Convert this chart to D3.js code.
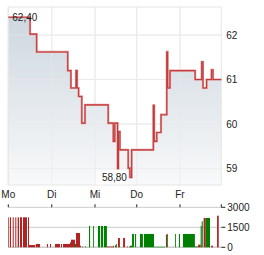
<!DOCTYPE html>
<html lang="de">
<head>
  <meta charset="utf-8">
  <title>Kurs 5 Tage</title>
  <script src="https://cdnjs.cloudflare.com/ajax/libs/d3/7.8.5/d3.min.js"></script>
  <style>
    body { margin: 0; background: #fff; }
    svg { display: block; font-family: "Liberation Sans", Arial, sans-serif; }
    .grid line { stroke: #ebebeb; stroke-width: 1; }
    .lbl { font-size: 10px; fill: #222; }
  </style>
</head>
<body>
<svg width="264" height="255"></svg>
<script>
  // day axis (time units 0..100 across the week)
  var dayT = [0, 20.4, 40.7, 60.3, 80.6];
  var dayNames = ["Mo", "Di", "Mi", "Do", "Fr"];
  var priceTicks = [59, 60, 61, 62];
  var volTicks = [0, 1500, 3000];

  // price path (step after)
  var priceT = [0, 10.2, 13.3, 27.9, 29.4, 31.8, 32.3, 33.0, 34.5, 36.0, 46.9, 49.3, 50.0, 51.3, 51.7, 52.4,
                56.3, 57.1, 57.9, 68.1, 68.5, 69.7, 71.7, 74.4, 74.8, 75.9, 87.7, 90.8, 91.4, 93.1, 95.4, 96.1, 100];
  var priceV = [62.40, 62.02, 61.62, 61.20, 60.81, 61.20, 60.81, 60.62, 60.02, 60.43, 60.02, 59.61, 60.02, 59.00, 59.83, 59.42,
                59.01, 58.80, 59.42, 60.42, 59.61, 59.81, 60.21, 61.62, 60.81, 61.20, 61.00, 61.40, 60.81, 61.00, 61.22, 61.00, 61.00];

  // volume bars: start, end, volume, direction (1 up / -1 down)
  var volStart = [0, 0.8, 2.07, 3.29, 4.41, 5.49, 6.9, 9.25, 9.72, 12.86, 18.17, 19.58, 21.92, 24.74, 25.68, 28.97, 29.44, 31.31,
                  31.78, 33.66, 34.6, 36.0, 37.9, 39.8, 42.1, 43.5, 44.9, 46.3, 49.2, 50.1, 50.6, 51.5, 53.9, 55.7, 56.7, 57.1,
                  58.1, 59.5, 61.8, 63.7, 68.4, 74.0, 74.5, 78.3, 80.1, 82.0, 87.6, 89.1, 90.3, 90.8, 91.7, 92.7, 95.2, 98.0];
  var volEnd   = [0.4, 1.27, 2.54, 3.76, 5.02, 6.43, 8.78, 9.72, 12.54, 14.88, 18.64, 20.05, 24.27, 25.21, 28.97, 29.44, 31.31, 31.78,
                  33.66, 34.13, 35.07, 36.5, 38.4, 40.2, 43.1, 44.5, 46.3, 49.2, 49.6, 50.6, 51.0, 52.4, 54.8, 56.2, 57.1, 58.1,
                  59.0, 60.0, 63.2, 68.4, 73.6, 74.5, 74.9, 78.7, 80.6, 87.6, 89.1, 90.3, 90.8, 91.3, 92.7, 94.7, 96.1, 98.8];
  var volValue = [2250, 2250, 2250, 2250, 2250, 2250, 2250, 2250, 170, 250, 250, 250, 250, 250, 250, 375, 570, 250,
                  1075, 120, 60, 60, 1600, 1600, 1600, 1600, 1600, 60, 120, 150, 250, 700, 700, 60, 60, 120,
                  1000, 1000, 1000, 1000, 40, 950, 1000, 1000, 1000, 1000, 60, 200, 1600, 1950, 2200, 2200, 120, 2370];
  var volDir   = [-1, -1, -1, -1, -1, -1, -1, -1, -1, -1, -1, -1, -1, -1, -1, -1, -1, 1,
                  -1, -1, 1, 1, 1, 1, 1, 1, 1, -1, -1, 1, 1, -1, -1, -1, -1, 1,
                  1, 1, 1, 1, 1, 1, -1, 1, 1, 1, 1, -1, 1, 1, -1, 1, -1, -1];

  var svg = d3.select("svg");

  var x = d3.scaleLinear().domain([0, 100]).range([8.3, 221.3]);
  var y = d3.scaleLinear().domain([58.63, 62.63]).range([185, 7]);
  var yv = d3.scaleLinear().domain([0, 3000]).range([247.3, 207.3]);

  var prices = priceT.map(function(t, i) { return {t: t, v: priceV[i]}; });

  // gradient under the line
  var grad = svg.append("defs").append("linearGradient")
      .attr("id", "fillGrad").attr("gradientUnits", "userSpaceOnUse")
      .attr("x1", 0).attr("y1", y.range()[1]).attr("x2", 0).attr("y2", y.range()[0]);
  grad.append("stop").attr("offset", 0).attr("stop-color", "#c6d1da");
  grad.append("stop").attr("offset", 1).attr("stop-color", "#f7f8f9");

  // grid
  var grid = svg.append("g").attr("class", "grid");
  grid.selectAll(".gx").data(dayT).enter().append("line")
      .attr("x1", function(d) { return x(d); }).attr("x2", function(d) { return x(d); })
      .attr("y1", y.range()[1]).attr("y2", y.range()[0]);
  grid.selectAll(".gy").data(priceTicks).enter().append("line")
      .attr("x1", x.range()[0]).attr("x2", x.range()[1])
      .attr("y1", function(d) { return y(d); }).attr("y2", function(d) { return y(d); });

  // area + line
  var area = d3.area().curve(d3.curveStepAfter)
      .x(function(d) { return x(d.t); })
      .y0(y.range()[0])
      .y1(function(d) { return y(d.v); });
  var line = d3.line().curve(d3.curveStepAfter)
      .x(function(d) { return x(d.t); })
      .y(function(d) { return y(d.v); });

  svg.append("path").datum(prices).attr("d", area).attr("fill", "url(#fillGrad)").attr("fill-opacity", 0.9);

  // grid lines visible on top of the fill
  var grid2 = svg.append("g").attr("class", "grid").attr("opacity", 0.6);
  grid2.selectAll("line").data(priceTicks).enter().append("line")
      .attr("x1", x.range()[0]).attr("x2", x.range()[1])
      .attr("y1", function(d) { return y(d); }).attr("y2", function(d) { return y(d); });
  svg.append("g").attr("class", "grid").attr("opacity", 0.6)
    .selectAll("line").data(dayT).enter().append("line")
      .attr("x1", function(d) { return x(d); }).attr("x2", function(d) { return x(d); })
      .attr("y1", y.range()[1]).attr("y2", y.range()[0]);

  // frame
  svg.append("rect")
      .attr("x", x.range()[0]).attr("y", y.range()[1])
      .attr("width", x.range()[1] - x.range()[0]).attr("height", y.range()[0] - y.range()[1])
      .attr("fill", "none").attr("stroke", "#e6e6e6");

  svg.append("path").datum(prices).attr("d", line)
      .attr("fill", "none").attr("stroke", "#e39a9a").attr("stroke-width", 2.2);
  svg.append("path").datum(prices).attr("d", line)
      .attr("fill", "none").attr("stroke", "#c23b3b").attr("stroke-width", 1.1);

  // price axis (right)
  svg.append("g").selectAll("text").data(priceTicks).enter().append("text")
      .attr("class", "lbl")
      .attr("x", x.range()[1] + 5)
      .attr("y", function(d) { return y(d); })
      .attr("dy", "0.35em")
      .text(function(d) { return d; });

  // day labels
  svg.append("g").selectAll("text").data(dayT).enter().append("text")
      .attr("class", "lbl")
      .attr("x", function(d) { return x(d); })
      .attr("y", y.range()[0] + 13)
      .attr("text-anchor", "middle")
      .text(function(d, i) { return dayNames[i]; });

  // high / low labels
  var fmt = function(v) { return v.toFixed(2).replace(".", ","); };
  var hi = prices[d3.maxIndex(prices, function(d) { return d.v; })];
  var lo = prices[d3.minIndex(prices, function(d) { return d.v; })];
  svg.append("text").attr("class", "lbl")
      .attr("x", x(hi.t) + 4).attr("y", y(hi.v) + 4)
      .text(fmt(hi.v));
  svg.append("rect")
      .attr("x", x(lo.t) - 34).attr("y", y(lo.v) - 7)
      .attr("width", 32).attr("height", 14)
      .attr("fill", "#fff").attr("fill-opacity", 0.85);
  svg.append("text").attr("class", "lbl")
      .attr("x", x(lo.t) - 3).attr("y", y(lo.v) + 4)
      .attr("text-anchor", "end")
      .text(fmt(lo.v));

  // volume chart
  var vg = svg.append("g");
  vg.selectAll(".vgrid").data(volTicks).enter().append("line")
      .attr("x1", x.range()[0]).attr("x2", x.range()[1])
      .attr("y1", function(d) { return yv(d); }).attr("y2", function(d) { return yv(d); })
      .attr("stroke", "#cccccc").attr("stroke-width", function(d) { return d === 0 ? 1.5 : 1; });

  vg.selectAll(".vtick").data(dayT.concat([100])).enter().append("line")
      .attr("x1", function(d) { return x(d); }).attr("x2", function(d) { return x(d); })
      .attr("y1", yv(3000) - 3).attr("y2", yv(3000))
      .attr("stroke", "#222");

  var bars = volStart.map(function(s, i) {
    return {s: s, e: volEnd[i], v: volValue[i], d: volDir[i]};
  });
  vg.selectAll(".bar").data(bars).enter().append("rect")
      .attr("x", function(d) { return x(d.s); })
      .attr("width", function(d) { return Math.max(0.8, x(d.e) - x(d.s)); })
      .attr("y", function(d) { return yv(d.v); })
      .attr("height", function(d) { return yv(0) - yv(d.v); })
      .attr("fill", function(d) { return d.d > 0 ? "#008000" : "#b22222"; });

  vg.selectAll(".vt").data(volTicks).enter().append("line")
      .attr("x1", x.range()[1]).attr("x2", x.range()[1] + 4)
      .attr("y1", function(d) { return yv(d); }).attr("y2", function(d) { return yv(d); })
      .attr("stroke", "#222");
  vg.selectAll(".vl").data(volTicks).enter().append("text")
      .attr("class", "lbl")
      .attr("x", x.range()[1] + 6)
      .attr("y", function(d) { return yv(d); })
      .attr("dy", "0.35em")
      .text(function(d) { return d; });
</script>
</body>
</html>
